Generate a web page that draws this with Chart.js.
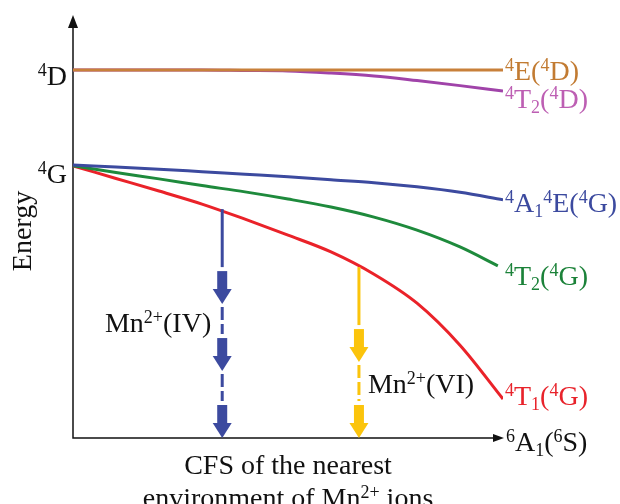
<!DOCTYPE html>
<html>
<head>
<meta charset="utf-8">
<script src="https://cdn.jsdelivr.net/npm/chart.js@4.4.0/dist/chart.umd.min.js"></script>
<style>
  body { margin: 0; background: #fff; }
  #wrap { width: 620px; height: 504px; }
</style>
</head>
<body>
<div id="wrap"><canvas id="tsChart" width="620" height="504"></canvas></div>
<script>
// crystal field strength (arbitrary units) and energies (arbitrary units)
var cfs = [0, 1, 2, 3, 4, 5, 6, 7, 8, 9, 10];
var cfsT2G = [0, 1, 2, 3, 4, 5, 6, 7, 8, 9, 9.88];

var level4E_4D  = [87.6, 87.6, 87.6, 87.6, 87.6, 87.6, 87.6, 87.6, 87.6, 87.6, 87.6];
var level4T2_4D = [87.6, 87.6, 87.6, 87.6, 87.5, 87.4, 86.9, 86.2, 85.1, 83.9, 82.6];
var level4A1_4G = [65.0, 64.5, 64.0, 63.4, 62.8, 62.2, 61.5, 60.8, 59.8, 58.5, 56.7];
var level4T2_4G = [64.8, 63.2, 61.7, 60.1, 58.6, 56.9, 55.0, 52.6, 49.5, 45.5, 41.0];
var level4T1_4G = [64.8, 61.8, 58.8, 55.7, 52.1, 48.3, 44.3, 39.0, 32.1, 22.1, 9.3];

// emission arrows: position on the CFS axis, starting energy, number of heads
var arrowNames = ['^{2+}(IV)', '^{2+}(VI)'];
var arrowX = [3.47, 6.65];
var arrowFrom = [54.5, 40.7];
var arrowHeads = [3, 2];
var arrowColors = ['#3c4a9f', '#fbc40c'];

var levelLabels = ['^{4}E(^{4}D)', '^{4}T_{2}(^{4}D)', '^{4}A_{1}^{4}E(^{4}G)', '^{4}T_{2}(^{4}G)', '^{4}T_{1}(^{4}G)'];

var SERIF = '"Liberation Serif", "DejaVu Serif", serif';
var FS = 28;

function pts(xs, ys) {
  return xs.map(function (x, i) { return { x: x, y: ys[i] }; });
}

function parseRich(s) {
  var out = [], re = /(\^|_)\{([^}]*)\}|([^^_]+)/g, m;
  while ((m = re.exec(s)) !== null) {
    if (m[3]) out.push({ t: m[3], mode: 'n' });
    else out.push({ t: m[2], mode: m[1] === '^' ? 'sup' : 'sub' });
  }
  return out;
}

function richText(ctx, s, x, y, color, align) {
  var parts = parseRich(s), w = 0;
  parts.forEach(function (p) {
    ctx.font = (p.mode === 'n' ? FS : Math.round(FS * 0.65)) + 'px ' + SERIF;
    p.w = ctx.measureText(p.t).width;
    w += p.w;
  });
  var cx = x;
  if (align === 'right') cx = x - w;
  if (align === 'center') cx = x - w / 2;
  ctx.fillStyle = color;
  ctx.textAlign = 'left';
  ctx.textBaseline = 'alphabetic';
  parts.forEach(function (p) {
    ctx.font = (p.mode === 'n' ? FS : Math.round(FS * 0.65)) + 'px ' + SERIF;
    var dy = p.mode === 'sup' ? -FS * 0.32 : (p.mode === 'sub' ? FS * 0.18 : 0);
    ctx.fillText(p.t, cx, y + dy);
    cx += p.w;
  });
}

function drawHead(ctx, x, tip) {
  ctx.beginPath();
  ctx.rect(x - 5, tip - 33, 10, 19);
  ctx.fill();
  ctx.beginPath();
  ctx.moveTo(x - 9.5, tip - 15);
  ctx.lineTo(x + 9.5, tip - 15);
  ctx.lineTo(x, tip);
  ctx.closePath();
  ctx.fill();
}

var diagram = {
  id: 'diagram',
  beforeDatasetsDraw: function (chart) {
    var ctx = chart.ctx, a = chart.chartArea;
    ctx.save();
    ctx.strokeStyle = '#111';
    ctx.fillStyle = '#111';
    ctx.lineWidth = 1.5;
    ctx.beginPath();
    ctx.moveTo(a.left, a.top + 10);
    ctx.lineTo(a.left, a.bottom);
    ctx.lineTo(a.right - 6, a.bottom);
    ctx.stroke();
    // y arrow
    ctx.beginPath();
    ctx.moveTo(a.left, a.top - 3);
    ctx.lineTo(a.left - 5, a.top + 10);
    ctx.lineTo(a.left + 5, a.top + 10);
    ctx.closePath();
    ctx.fill();
    // x arrow
    ctx.beginPath();
    ctx.moveTo(a.right + 1, a.bottom);
    ctx.lineTo(a.right - 10, a.bottom - 4);
    ctx.lineTo(a.right - 10, a.bottom + 4);
    ctx.closePath();
    ctx.fill();
    ctx.restore();
  },
  afterDatasetsDraw: function (chart) {
    var ctx = chart.ctx, a = chart.chartArea;
    var xs = chart.scales.x, ys = chart.scales.y;
    ctx.save();
    // arrows
    for (var i = 0; i < arrowX.length; i++) {
      var px = xs.getPixelForValue(arrowX[i]);
      var top = ys.getPixelForValue(arrowFrom[i]);
      var bot = ys.getPixelForValue(0);
      var first = top + 95;
      var n = arrowHeads[i];
      var tips = [];
      for (var k = 0; k < n; k++) tips.push(first + (bot - first) * k / (n - 1));
      ctx.strokeStyle = arrowColors[i];
      ctx.fillStyle = arrowColors[i];
      ctx.lineWidth = 3;
      var segStart = top;
      for (var k = 0; k < n; k++) {
        ctx.setLineDash(k === 0 ? [] : [13, 4]);
        ctx.beginPath();
        ctx.moveTo(px, segStart);
        ctx.lineTo(px, tips[k] - 37);
        ctx.stroke();
        drawHead(ctx, px, tips[k]);
        segStart = tips[k] + 3;
      }
      ctx.setLineDash([]);
    }
    richText(ctx, 'Mn' + arrowNames[0], xs.getPixelForValue(arrowX[0]) - 11, 332, '#111', 'right');
    richText(ctx, 'Mn' + arrowNames[1], xs.getPixelForValue(arrowX[1]) + 9, 393, '#111', 'left');

    // level labels at right end
    var lx = a.right + 2;
    var colors = ['#c27b32', '#bd5fb3', '#3c4a9f', '#1b8239', '#e8232b'];
    var base = [80, 108, 212, 285, 405];
    for (var j = 0; j < levelLabels.length; j++) richText(ctx, levelLabels[j], lx, base[j], colors[j], 'left');
    richText(ctx, '^{6}A_{1}(^{6}S)', lx + 1, 451, '#111', 'left');

    // free-ion terms on the energy axis
    richText(ctx, '^{4}D', a.left - 6, 85, '#111', 'right');
    richText(ctx, '^{4}G', a.left - 6, 183, '#111', 'right');

    // axis titles
    ctx.save();
    ctx.translate(24, 231);
    ctx.rotate(-Math.PI / 2);
    ctx.font = FS + 'px ' + SERIF;
    ctx.fillStyle = '#111';
    ctx.textAlign = 'center';
    ctx.textBaseline = 'middle';
    ctx.fillText('Energy', 0, 0);
    ctx.restore();
    var cx = (a.left + a.right) / 2;
    richText(ctx, 'CFS of the nearest', cx, 474, '#111', 'center');
    richText(ctx, 'environment of Mn^{2+} ions', cx, 507, '#111', 'center');
    ctx.restore();
  }
};

var ctx = document.getElementById('tsChart').getContext('2d');
var chart = new Chart(ctx, {
  type: 'line',
  data: {
    datasets: [
      { label: '4E(4D)', data: pts(cfs, level4E_4D), borderColor: '#c8803a' },
      { label: '4T2(4D)', data: pts(cfs, level4T2_4D), borderColor: '#a043a9' },
      { label: '4A1 4E(4G)', data: pts(cfs, level4A1_4G), borderColor: '#3c4a9f' },
      { label: '4T2(4G)', data: pts(cfsT2G, level4T2_4G), borderColor: '#1e8a3c' },
      { label: '4T1(4G)', data: pts(cfs, level4T1_4G), borderColor: '#ea2229' }
    ]
  },
  options: {
    responsive: false,
    animation: false,
    layout: { padding: { left: 73, right: 117, top: 18, bottom: 66 } },
    elements: {
      line: { borderWidth: 3, tension: 0.4, cubicInterpolationMode: 'monotone', fill: false },
      point: { radius: 0 }
    },
    scales: {
      x: { type: 'linear', min: 0, max: 10, display: false },
      y: { min: 0, max: 100, display: false }
    },
    plugins: { legend: { display: false }, tooltip: { enabled: false } }
  },
  plugins: [diagram]
});
</script>
</body>
</html>
